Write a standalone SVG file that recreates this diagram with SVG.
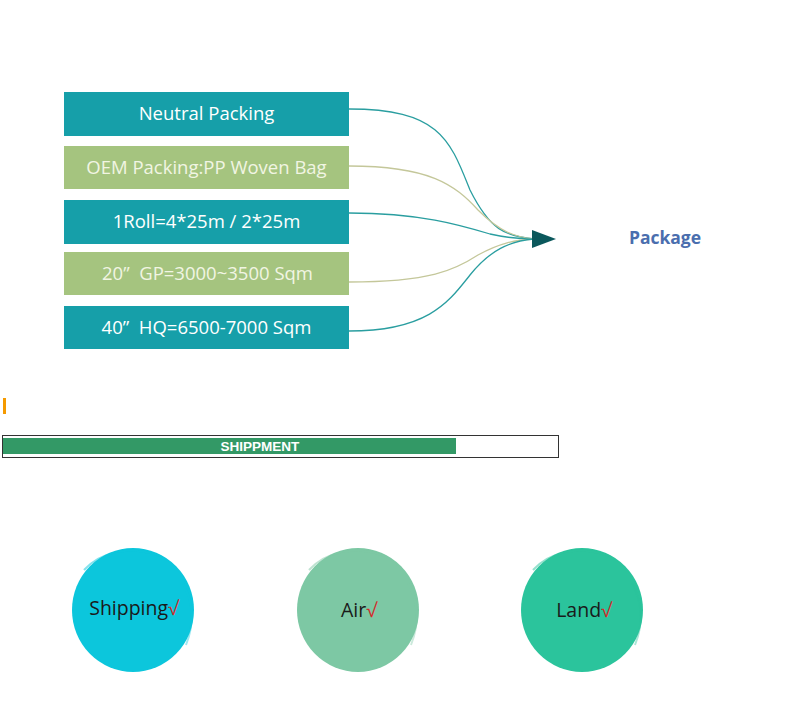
<svg xmlns="http://www.w3.org/2000/svg" width="791" height="712" viewBox="0 0 791 712">
<style>
.box{stroke:none}
.teal{fill:#169fa9}
.olive{fill:#a5c47f}
.bt{font-family:"Open Sans","Noto Sans",sans-serif;font-size:18.5px;text-anchor:middle;dominant-baseline:central}
.wt{fill:#ffffff}
.lt{fill:#f1f5e3}
.c1{fill:none;stroke:#2a9ea0;stroke-width:1.3}
.c2{fill:none;stroke:#c4c79a;stroke-width:1.3}
.ct{font-family:"Open Sans","Noto Sans",sans-serif;font-size:19.5px;text-anchor:middle;fill:#1a1a1a}
.ck{fill:#d42a2a}
</style>
<rect width="791" height="712" fill="#ffffff"/>
<g id="n1"><rect class="box teal" x="64" y="92" width="285" height="44"/><text class="bt wt" x="206.5" y="112">Neutral Packing</text></g>
<g id="n2"><rect class="box olive" x="64" y="146" width="285" height="43"/><text class="bt lt" x="206.5" y="166">OEM Packing:PP Woven Bag</text></g>
<g id="n3"><rect class="box teal" x="64" y="200" width="285" height="44"/><text class="bt wt" x="206.5" y="220">1Roll=4*25m / 2*25m</text></g>
<g id="n4"><rect class="box olive" x="64" y="252" width="285" height="43"/><text class="bt lt" x="207.5" y="272">20”&#160; GP=3000~3500 Sqm</text></g>
<g id="n5"><rect class="box teal" x="64" y="306" width="285" height="43"/><text class="bt wt" x="206.5" y="326">40”&#160; HQ=6500-7000 Sqm</text></g>
<g id="connectors">
<path class="c1" d="M349,109 C440,109 450,140 470,190 C490,230 505,236 534,239"/>
<path class="c2" d="M349,166 C430,166 455,185 478,210 C500,232 515,237 534,239"/>
<path class="c1" d="M349,213 C420,213 460,225 490,234 C508,238 520,239 534,239"/>
<path class="c2" d="M349,282 C430,282 455,270 478,255 C500,243 515,240 534,239"/>
<path class="c1" d="M349,331 C430,331 450,300 470,275 C490,250 510,241 534,239"/>
<polygon points="532,230 556,239 532,248" fill="#0b585c"/>
</g>
<g id="package"><text x="665" y="244" font-family="Open Sans,Noto Sans,sans-serif" font-size="17.5" font-weight="bold" fill="#4a6eae" text-anchor="middle">Package</text></g>
<rect x="3" y="398" width="3" height="16" fill="#f59a00"/>
<g id="shippment">
<rect x="2.5" y="435.5" width="556" height="22" fill="#ffffff" stroke="#333333" stroke-width="1"/>
<rect x="3" y="438" width="453" height="16" fill="#339966"/>
<text x="260" y="451" font-family="Liberation Sans,Arial,sans-serif" font-size="13.5" font-weight="bold" fill="#ffffff" text-anchor="middle">SHIPPMENT</text>
</g>
<g id="shipping">
<ellipse cx="133" cy="610" rx="61" ry="62" fill="#0cc6dc"/>
<path d="M84,570 C100,552 130,545 160,556" fill="none" stroke="#0cc6dc" stroke-width="2" opacity="0.5"/>
<path d="M183,583 C192,600 196,620 186,645" fill="none" stroke="#0cc6dc" stroke-width="2" opacity="0.4"/>
<text class="ct" x="134" y="615">Shipping<tspan class="ck">√</tspan></text>
</g>
<g id="air">
<ellipse cx="358" cy="610" rx="61" ry="62" fill="#7dc8a4"/>
<path d="M309,570 C325,552 355,545 385,556" fill="none" stroke="#7dc8a4" stroke-width="2" opacity="0.5"/>
<path d="M408,583 C417,600 421,620 411,645" fill="none" stroke="#7dc8a4" stroke-width="2" opacity="0.4"/>
<text class="ct" x="359" y="617">Air<tspan class="ck">√</tspan></text>
</g>
<g id="land">
<ellipse cx="582" cy="610" rx="61" ry="62" fill="#2bc49c"/>
<path d="M533,570 C549,552 579,545 609,556" fill="none" stroke="#2bc49c" stroke-width="2" opacity="0.5"/>
<path d="M632,583 C641,600 645,620 635,645" fill="none" stroke="#2bc49c" stroke-width="2" opacity="0.4"/>
<text class="ct" x="584" y="617">Land<tspan class="ck">√</tspan></text>
</g>
</svg>
